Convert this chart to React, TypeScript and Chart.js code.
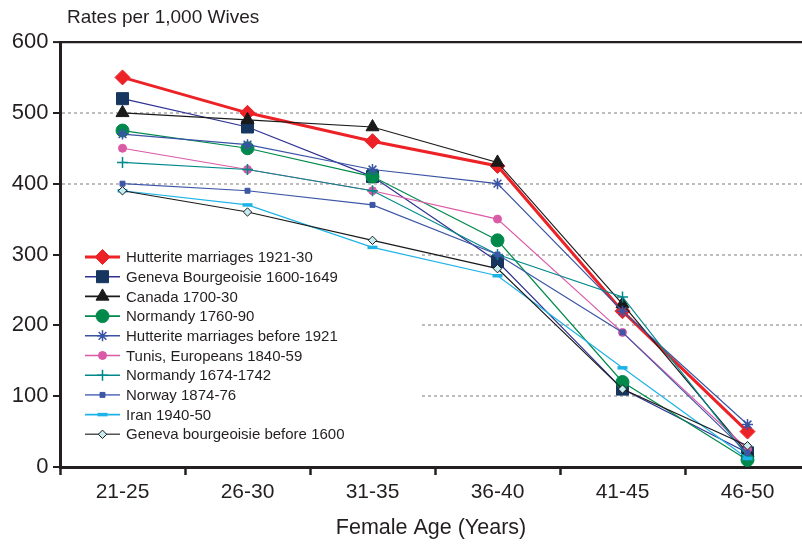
import React, { useEffect, useRef } from 'react';
import { Chart, registerables } from 'chart.js';
import { drawPoint } from 'chart.js/helpers';

Chart.register(...registerables);

// ---------- data ----------
const categories = ['21-25', '26-30', '31-35', '36-40', '41-45', '46-50'];
const yTicks = [0, 100, 200, 300, 400, 500, 600];

const hutterite1921 = [550, 500, 460, 425, 220, 50];
const geneva1600 = [520, 480, 410, 290, 110, 20];
const canada = [500, 490, 480, 430, 230, 20];
const normandy1760 = [475, 450, 410, 320, 120, 10];
const hutteriteBefore = [470, 455, 420, 400, 220, 60];
const tunis = [450, 420, 390, 350, 190, 25];
const normandy1674 = [430, 420, 390, 300, 240, 15];
const norway = [400, 390, 370, 300, 190, 20];
const iran = [390, 370, 310, 270, 140, 12];
const genevaBefore = [390, 360, 320, 280, 110, 30];

const seriesLabels = [
  'Hutterite marriages 1921-30',
  'Geneva Bourgeoisie 1600-1649',
  'Canada 1700-30',
  'Normandy 1760-90',
  'Hutterite marriages before 1921',
  'Tunis, Europeans 1840-59',
  'Normandy 1674-1742',
  'Norway 1874-76',
  'Iran 1940-50',
  'Geneva bourgeoisie before 1600',
];
const seriesValues = [
  hutterite1921, geneva1600, canada, normandy1760, hutteriteBefore,
  tunis, normandy1674, norway, iran, genevaBefore,
];

// ---------- styles ----------
type Style = {
  line: string; legendLine: string; lineWidth: number;
  pointStyle: any; radius: number; fill: string; pointBorder: string; pointBorderWidth: number;
};
const styles: Style[] = [
  { line: '#ec2227', legendLine: '#ec2227', lineWidth: 3, pointStyle: 'rectRot', radius: 7.5, fill: '#ec2227', pointBorder: '#ec2227', pointBorderWidth: 1 },
  { line: '#2e3192', legendLine: '#2e3192', lineWidth: 1.2, pointStyle: 'rect', radius: 8.5, fill: '#17365f', pointBorder: '#17365f', pointBorderWidth: 1 },
  { line: '#1a1a1a', legendLine: '#1a1a1a', lineWidth: 1.2, pointStyle: 'triangle', radius: 7.5, fill: '#1a1a1a', pointBorder: '#1a1a1a', pointBorderWidth: 1 },
  { line: '#00894b', legendLine: '#00894b', lineWidth: 1.2, pointStyle: 'circle', radius: 6.5, fill: '#00894b', pointBorder: '#00894b', pointBorderWidth: 1 },
  { line: '#3953a4', legendLine: '#3953a4', lineWidth: 1.2, pointStyle: 'star', radius: 5.5, fill: 'rgba(0,0,0,0)', pointBorder: '#3953a4', pointBorderWidth: 1.5 },
  { line: '#db5aa6', legendLine: '#db5aa6', lineWidth: 1.2, pointStyle: 'circle', radius: 4, fill: '#db5aa6', pointBorder: '#db5aa6', pointBorderWidth: 1 },
  { line: '#00898b', legendLine: '#00898b', lineWidth: 1.2, pointStyle: 'cross', radius: 5.5, fill: 'rgba(0,0,0,0)', pointBorder: '#00898b', pointBorderWidth: 1.5 },
  { line: '#3d56a6', legendLine: '#6b7fc4', lineWidth: 1.2, pointStyle: 'rect', radius: 3.5, fill: '#3d56a6', pointBorder: '#3d56a6', pointBorderWidth: 1 },
  { line: '#1eb3e6', legendLine: '#1eb3e6', lineWidth: 1.2, pointStyle: 'line', radius: 5, fill: '#1eb3e6', pointBorder: '#1eb3e6', pointBorderWidth: 3.5 },
  { line: '#1a1a1a', legendLine: '#555555', lineWidth: 1.2, pointStyle: 'rectRot', radius: 4.2, fill: '#c8ecf0', pointBorder: '#1a1a1a', pointBorderWidth: 1 },
];

const FONT = '"Liberation Sans", Arial, Helvetica, sans-serif';
const INK = '#231f20';

const legendPlugin = {
  id: 'insideLegend',
  beforeDatasetsDraw(chart: any) {
    const { ctx, chartArea } = chart;
    ctx.save();
    ctx.fillStyle = '#ffffff';
    ctx.fillRect(chartArea.left + 2, 244, 358, 200);
    ctx.restore();
  },
  afterDatasetsDraw(chart: any) {
    const { ctx, chartArea } = chart;
    const x0 = chartArea.left + 25;
    ctx.save();
    ctx.font = `15px ${FONT}`;
    ctx.textBaseline = 'middle';
    ctx.textAlign = 'left';
    seriesLabels.forEach((label, i) => {
      const s = styles[i];
      const y = 257 + i * 19.7;
      ctx.setLineDash([]);
      ctx.strokeStyle = s.legendLine;
      ctx.lineWidth = Math.max(s.lineWidth, 1.6);
      ctx.beginPath();
      ctx.moveTo(x0, y);
      ctx.lineTo(x0 + 35, y);
      ctx.stroke();
      ctx.fillStyle = s.fill;
      ctx.strokeStyle = s.pointBorder;
      ctx.lineWidth = s.pointBorderWidth;
      drawPoint(ctx, { pointStyle: s.pointStyle, radius: s.radius, borderWidth: s.pointBorderWidth, rotation: 0 } as any, x0 + 17.5, y);
      ctx.fillStyle = INK;
      ctx.fillText(label, x0 + 41, y + 1);
    });
    ctx.restore();
  },
};

export default function App() {
  const ref = useRef<HTMLCanvasElement>(null);

  useEffect(() => {
    const datasets = seriesValues.map((vals, i) => {
      const s = styles[i];
      return {
        label: seriesLabels[i],
        data: vals.map((v, j) => ({ x: j, y: v })),
        borderColor: s.line,
        backgroundColor: s.fill,
        borderWidth: s.lineWidth,
        pointStyle: s.pointStyle,
        pointRadius: s.radius,
        pointHoverRadius: s.radius,
        pointBackgroundColor: s.fill,
        pointBorderColor: s.pointBorder,
        pointBorderWidth: s.pointBorderWidth,
        tension: 0,
        fill: false,
        clip: false,
        order: seriesValues.length - i,
      };
    });

    const chart = new Chart(ref.current as HTMLCanvasElement, {
      type: 'line',
      data: { datasets },
      plugins: [legendPlugin],
      options: {
        responsive: false,
        animation: false,
        events: [],
        layout: { autoPadding: false, padding: { left: 8, top: 42, right: 0, bottom: 0 } },
        plugins: {
          legend: { display: false },
          tooltip: { enabled: false },
          title: { display: false },
        },
        scales: {
          x: {
            type: 'linear',
            min: -0.5,
            max: 5.436,
            afterBuildTicks: (scale: any) => {
              const t: any[] = [];
              for (let k = -1; k <= 10; k++) t.push({ value: k / 2 });
              scale.ticks = t;
            },
            afterFit: (scale: any) => { scale.height = 77; },
            ticks: {
              autoSkip: false,
              maxRotation: 0,
              padding: 5,
              color: INK,
              font: { family: FONT, size: 21 },
              callback: (v: any) => (Number.isInteger(v) ? categories[v] : ''),
            },
            grid: {
              drawOnChartArea: false,
              drawTicks: true,
              tickLength: 8,
              tickWidth: 2.5,
              tickColor: (c: any) => (c.tick && Number.isInteger(c.tick.value) ? 'rgba(0,0,0,0)' : INK),
            },
            border: { display: true, color: INK, width: 3 },
            title: {
              display: true,
              text: 'Female Age (Years)',
              color: INK,
              font: { family: FONT, size: 21.5 },
              padding: { top: 0, bottom: 3 },
            },
          },
          y: {
            type: 'linear',
            min: 0,
            max: 600,
            afterBuildTicks: (scale: any) => { scale.ticks = yTicks.map((v) => ({ value: v })); },
            afterFit: (scale: any) => { scale.width = 52; },
            ticks: {
              padding: 4.5,
              color: INK,
              font: { family: FONT, size: 22 },
            },
            grid: {
              color: (c: any) => {
                const v = c.tick ? c.tick.value : -1;
                if (v === 600) return INK;
                if (v === 0) return 'rgba(0,0,0,0)';
                return '#bdbdbd';
              },
              lineWidth: (c: any) => (c.tick && c.tick.value === 600 ? 2.2 : 2),
              drawTicks: true,
              tickLength: 7,
              tickWidth: 2,
              tickColor: INK,
            },
            border: {
              display: true,
              color: INK,
              width: 3,
              dash: (c: any) => (c.tick && c.tick.value === 600 ? [] : [3, 3]),
            } as any,
          },
        },
      } as any,
    });
    return () => chart.destroy();
  }, []);

  return (
    <div style={{ position: 'absolute', left: 0, top: 0, width: 802, height: 544, background: '#fff' }}>
      <canvas ref={ref} width={802} height={544} style={{ display: 'block', width: 802, height: 544 }} />
      <div
        style={{
          position: 'absolute', left: 67, top: 4, fontFamily: FONT, fontSize: 19,
          lineHeight: '26px', color: INK, whiteSpace: 'nowrap',
        }}
      >
        Rates per 1,000 Wives
      </div>
    </div>
  );
}
